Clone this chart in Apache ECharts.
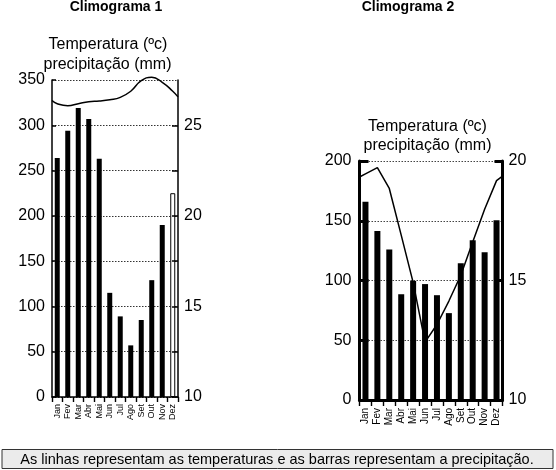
<!DOCTYPE html>
<html>
<head>
<meta charset="utf-8">
<script src="https://cdn.jsdelivr.net/npm/echarts@6/dist/echarts.min.js"></script>
<style>
html,body{margin:0;padding:0;background:#fff;}
#chart{width:556px;height:470px;}
</style>
</head>
<body>
<div id="chart"></div>
<script>
var months = ['Jan','Fev','Mar','Abr','Mai','Jun','Jul','Ago','Set','Out','Nov','Dez'];
// Climograma 1
var precip1 = [264, 294, 319, 307, 263, 115, 89, 57, 85, 129, 190, 225];
var temp1 = [26.19, 26.08, 26.19, 26.30, 26.34, 26.41, 26.54, 26.88, 27.46, 27.65, 27.37, 26.88];
var temp1Edges = [26.37, 26.57];
// Climograma 2
var precip2 = [166, 141.5, 126, 88.5, 99.7, 97, 87.7, 72.7, 114.5, 133.7, 123.7, 150.4];
var temp2 = [19.46, 19.72, 18.85, 16.9, 14.92, 12.42, 13.16, 14.14, 15.22, 16.61, 17.98, 19.18];
var temp2Edges = [19.33, 19.37];
var leftTicks1 = [0, 350, 50];
var rightTicks1 = [10, 27.5, 2.5];
var leftTicks2 = [0, 200, 50];
var rightTicks2 = [10, 20, 5];
var titles = ['Climograma 1', 'Climograma 2'];
var axisTitle = ['Temperatura (ºc)', 'precipitação (mm)'];
var caption = 'As linhas representam as temperaturas e as barras representam a precipitação.';

function linePoints(vals, edges) {
  var pts = [[0, edges[0]]];
  for (var i = 0; i < vals.length; i++) pts.push([i + 0.5, vals[i]]);
  pts.push([vals.length, edges[1]]);
  return pts;
}

var FONT = 'Liberation Sans, Arial, sans-serif';
var chart = echarts.init(document.getElementById('chart'), null, {renderer: 'canvas'});

function catAxis(gi, lw, fs, tl) {
  return {
    type: 'category', gridIndex: gi, data: months,
    axisLine: {show: true, lineStyle: {color: '#000', width: lw}},
    axisTick: {show: true, length: tl, lineStyle: {color: '#000', width: 1.4}},
    axisLabel: {rotate: 90, fontSize: fs, color: '#000', margin: tl + 2, fontFamily: FONT, interval: 0},
    splitLine: {show: false}
  };
}

var bars1 = precip1.map(function (v, i) {
  if (i === 11) return {value: v, itemStyle: {color: '#fff', borderColor: '#000', borderWidth: 1}};
  return v;
});

function txt(s, x, y, size, weight) {
  return {type: 'text', style: {text: s, x: x, y: y, font: (weight ? weight + ' ' : '') + size + 'px ' + FONT, fill: '#000', textAlign: 'center', textVerticalAlign: 'middle'}};
}

var option = {
  animation: false,
  backgroundColor: '#fff',
  textStyle: {fontFamily: FONT},
  graphic: [
    txt(titles[0], 116, 7.5, 14, 'bold'),
    txt(titles[1], 408, 7.5, 14, 'bold'),
    txt(axisTitle[0], 108, 45, 16),
    txt(axisTitle[1], 107.5, 64.5, 16),
    txt(axisTitle[0], 427.5, 127, 16),
    txt(axisTitle[1], 427.5, 146, 16),
    {type: 'rect', shape: {x: 2, y: 449.5, width: 551, height: 19}, style: {fill: '#ebebeb', stroke: '#333', lineWidth: 1}},
    txt(caption, 277, 459.5, 14.5)
  ],
  grid: [
    {left: 52, top: 80, width: 126, height: 317},
    {left: 359.5, top: 161, width: 143, height: 239}
  ],
  xAxis: [
    catAxis(0, 1.5, 9, 5),
    {type: 'value', gridIndex: 0, min: 0, max: 12, show: false},
    catAxis(1, 3, 10, 6),
    {type: 'value', gridIndex: 1, min: 0, max: 12, show: false}
  ],
  yAxis: [
    {type: 'value', gridIndex: 0, min: leftTicks1[0], max: leftTicks1[1], interval: leftTicks1[2],
     axisLine: {show: true, lineStyle: {color: '#000', width: 1.5}},
     axisTick: {show: true, inside: true, length: 4, lineStyle: {color: '#000', width: 1.5}},
     axisLabel: {fontSize: 16, color: '#000', margin: 7, fontFamily: FONT},
     splitLine: {show: true, lineStyle: {color: '#333', type: [1.5, 1.5], width: 1}}},
    {type: 'value', gridIndex: 0, position: 'right', min: rightTicks1[0], max: rightTicks1[1], interval: rightTicks1[2], z: 3,
     axisLine: {show: true, lineStyle: {color: '#000', width: 1.5}},
     axisTick: {show: true, inside: true, length: 6, lineStyle: {color: '#000', width: 1.5}},
     axisLabel: {fontSize: 16, color: '#000', margin: 6, fontFamily: FONT, showMaxLabel: false,
       formatter: function (v) { return (v % 5 === 0) ? String(v) : ''; }},
     splitLine: {show: false}},
    {type: 'value', gridIndex: 1, min: leftTicks2[0], max: leftTicks2[1], interval: leftTicks2[2],
     axisLine: {show: true, lineStyle: {color: '#000', width: 3}},
     axisTick: {show: true, inside: true, length: 9, lineStyle: {color: '#000', width: 3}},
     axisLabel: {fontSize: 16, color: '#000', margin: 8, fontFamily: FONT},
     splitLine: {show: true, lineStyle: {color: '#444', type: [1.5, 1.5], width: 1}}},
    {type: 'value', gridIndex: 1, position: 'right', min: rightTicks2[0], max: rightTicks2[1], interval: rightTicks2[2],
     axisLine: {show: true, lineStyle: {color: '#000', width: 3}},
     axisTick: {show: true, inside: true, length: 8, lineStyle: {color: '#000', width: 3}},
     axisLabel: {fontSize: 16, color: '#000', margin: 6, fontFamily: FONT},
     splitLine: {show: false}}
  ],
  series: [
    {type: 'bar', xAxisIndex: 0, yAxisIndex: 0, data: bars1, barWidth: 5, itemStyle: {color: '#000'}},
    {type: 'line', xAxisIndex: 1, yAxisIndex: 1, data: linePoints(temp1, temp1Edges), smooth: 0.5, symbol: 'none', clip: false,
     lineStyle: {color: '#000', width: 1.5}, z: 4},
    {type: 'bar', xAxisIndex: 2, yAxisIndex: 2, data: precip2, barWidth: 6, itemStyle: {color: '#000'}},
    {type: 'line', xAxisIndex: 3, yAxisIndex: 3, data: linePoints(temp2, temp2Edges), smooth: false, symbol: 'none', clip: false,
     lineStyle: {color: '#000', width: 1.5}, z: 4}
  ]
};
chart.setOption(option);
</script>
</body>
</html>
